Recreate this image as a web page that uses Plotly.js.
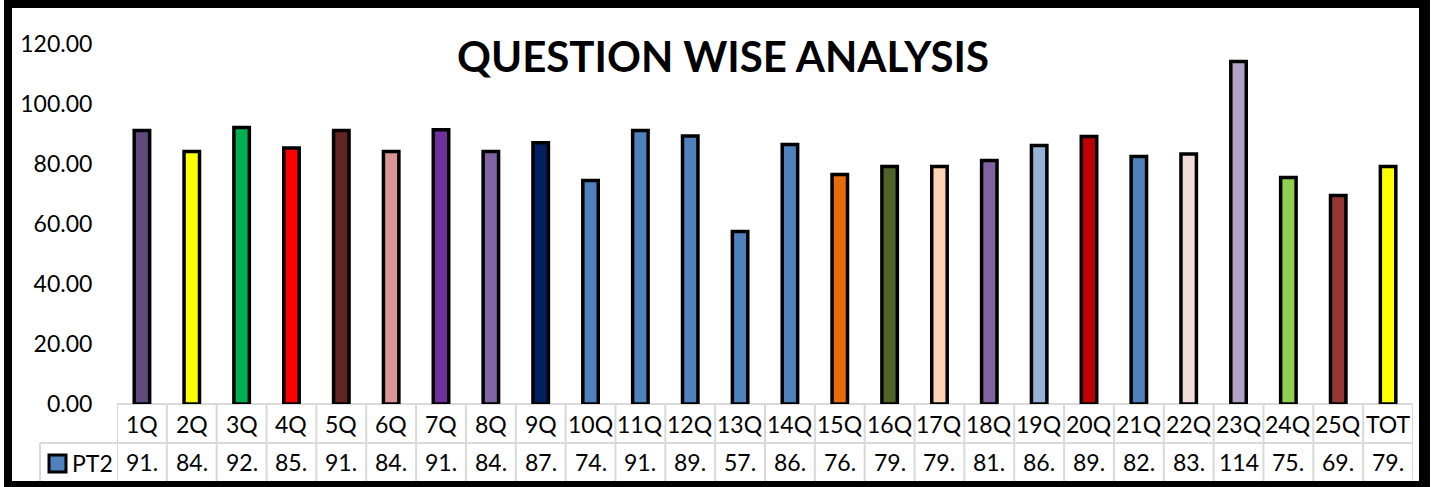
<!DOCTYPE html>
<html>
<head>
<meta charset="utf-8">
<script src="https://cdn.plot.ly/plotly-3.0.1.min.js"></script>
<style>
  html, body { margin: 0; padding: 0; background: #ffffff; }
  #wrap { position: relative; width: 1433px; height: 487px; overflow: hidden; }
  #chart { position: absolute; left: 0; top: 0; width: 1433px; height: 487px; }
  #frame { position: absolute; left: 4px; top: 0; width: 1426px; height: 487px; box-sizing: border-box;
           border-top: 8px solid #000; border-left: 8px solid #000; border-right: 11px solid #000; border-bottom: 6px solid #000;
           pointer-events: none; }
</style>
</head>
<body>
<div id="wrap">
  <div id="chart"></div>
  <div id="frame"></div>
</div>
<script>
const categories = ["1Q","2Q","3Q","4Q","5Q","6Q","7Q","8Q","9Q","10Q","11Q","12Q","13Q","14Q","15Q","16Q","17Q","18Q","19Q","20Q","21Q","22Q","23Q","24Q","25Q","TOT"];
const seriesName = "PT2";
const pt2Values = [91.2, 84.2, 92.2, 85.3, 91.2, 84.2, 91.4, 84.2, 87.1, 74.5, 91.2, 89.3, 57.5, 86.5, 76.5, 79.2, 79.2, 81.2, 86.2, 89.2, 82.5, 83.3, 114.2, 75.5, 69.5, 79.2];
const barColors = ["#604A7B","#FFFF00","#00B050","#FF0000","#632523","#D99694","#7030A0","#8064A2","#002060","#4F81BD","#4F81BD","#4F81BD","#4F81BD","#4F81BD","#E46C0A","#4F6228","#FCD5B5","#8064A2","#95B3D7","#C00000","#4F81BD","#F2DCDB","#B3A2C7","#92D050","#953735","#FFFF00"];
const yTickVals = [0, 20, 40, 60, 80, 100, 120];
const yTickText = ["0.00","20.00","40.00","60.00","80.00","100.00","120.00"];
const legendColor = "#4F81BD";

const FONT = "Lato, 'Open Sans', sans-serif";
const gridColor = "#d9d9d9";

// plot area geometry (paper fractions for the data table beneath)
const plotTop = 44, plotBottom = 404, plotLeft = 117, plotRight = 1413;
const ph = plotBottom - plotTop, pw = plotRight - plotLeft;
const py = (pix) => (plotBottom - pix) / ph;
const px = (pix) => (pix - plotLeft) / pw;

// table cell text: the value clipped to three characters as in the cell
const cellText = pt2Values.map(v => v.toFixed(2).slice(0, 3));

const annotations = [];
const shapes = [];
categories.forEach((c, i) => {
  annotations.push({ x: i, xref: 'x', y: py(424), yref: 'paper', text: c, showarrow: false,
    xanchor: 'center', yanchor: 'middle', font: { family: FONT, size: 23, color: '#000' } });
  annotations.push({ x: i, xref: 'x', y: py(462), yref: 'paper', text: cellText[i], showarrow: false,
    xanchor: 'center', yanchor: 'middle', font: { family: FONT, size: 23, color: '#000' } });
});
for (let i = 0; i <= categories.length; i++) {
  shapes.push({ type: 'line', xref: 'x', yref: 'paper', x0: i - 0.5, x1: i - 0.5, y0: py(404), y1: py(481),
    line: { color: gridColor, width: 2 }, layer: 'below' });
}
// horizontal table lines
shapes.push({ type: 'line', xref: 'paper', yref: 'paper', x0: 0, x1: 1, y0: py(404), y1: py(404), line: { color: gridColor, width: 2 }, layer: 'below' });
shapes.push({ type: 'line', xref: 'paper', yref: 'paper', x0: px(40), x1: 1, y0: py(443), y1: py(443), line: { color: gridColor, width: 2 }, layer: 'below' });
shapes.push({ type: 'line', xref: 'paper', yref: 'paper', x0: px(40), x1: px(40), y0: py(443), y1: py(481), line: { color: gridColor, width: 2 }, layer: 'below' });
// legend key
shapes.push({ type: 'rect', xref: 'paper', yref: 'paper', x0: px(49), x1: px(66), y0: py(455), y1: py(472),
  fillcolor: legendColor, line: { color: '#000', width: 3 } });
annotations.push({ x: px(70), xref: 'paper', y: py(463), yref: 'paper', text: seriesName, showarrow: false,
  xanchor: 'left', yanchor: 'middle', font: { family: FONT, size: 23, color: '#000' } });

const trace = {
  type: 'bar',
  x: categories,
  y: pt2Values,
  name: seriesName,
  marker: { color: barColors, line: { color: '#000', width: 3.5 } },
  hoverinfo: 'x+y'
};

const layout = {
  width: 1433, height: 487,
  margin: { l: plotLeft, r: 1433 - plotRight, t: plotTop, b: 487 - plotBottom, pad: 0 },
  paper_bgcolor: '#ffffff', plot_bgcolor: '#ffffff',
  showlegend: false,
  bargap: 0.69,
  title: { text: 'QUESTION WISE ANALYSIS', font: { family: FONT, size: 42, color: '#000', weight: 'bold' },
    xref: 'container', x: 723 / 1433, xanchor: 'center', yref: 'container', y: 1 - 57 / 487, yanchor: 'middle' },
  xaxis: { type: 'category', range: [-0.5, categories.length - 0.5], showticklabels: false, showgrid: false,
    zeroline: false, showline: false, ticks: '', fixedrange: true },
  yaxis: { range: [0, 120], tickvals: yTickVals, ticktext: yTickText, showgrid: false, zeroline: false, showline: false,
    ticks: 'outside', ticklen: 19, tickcolor: 'rgba(0,0,0,0)', tickfont: { family: FONT, size: 23, color: '#000' }, fixedrange: true },
  annotations: annotations,
  shapes: shapes
};

Plotly.newPlot('chart', [trace], layout, { displayModeBar: false, staticPlot: true });
</script>
</body>
</html>
